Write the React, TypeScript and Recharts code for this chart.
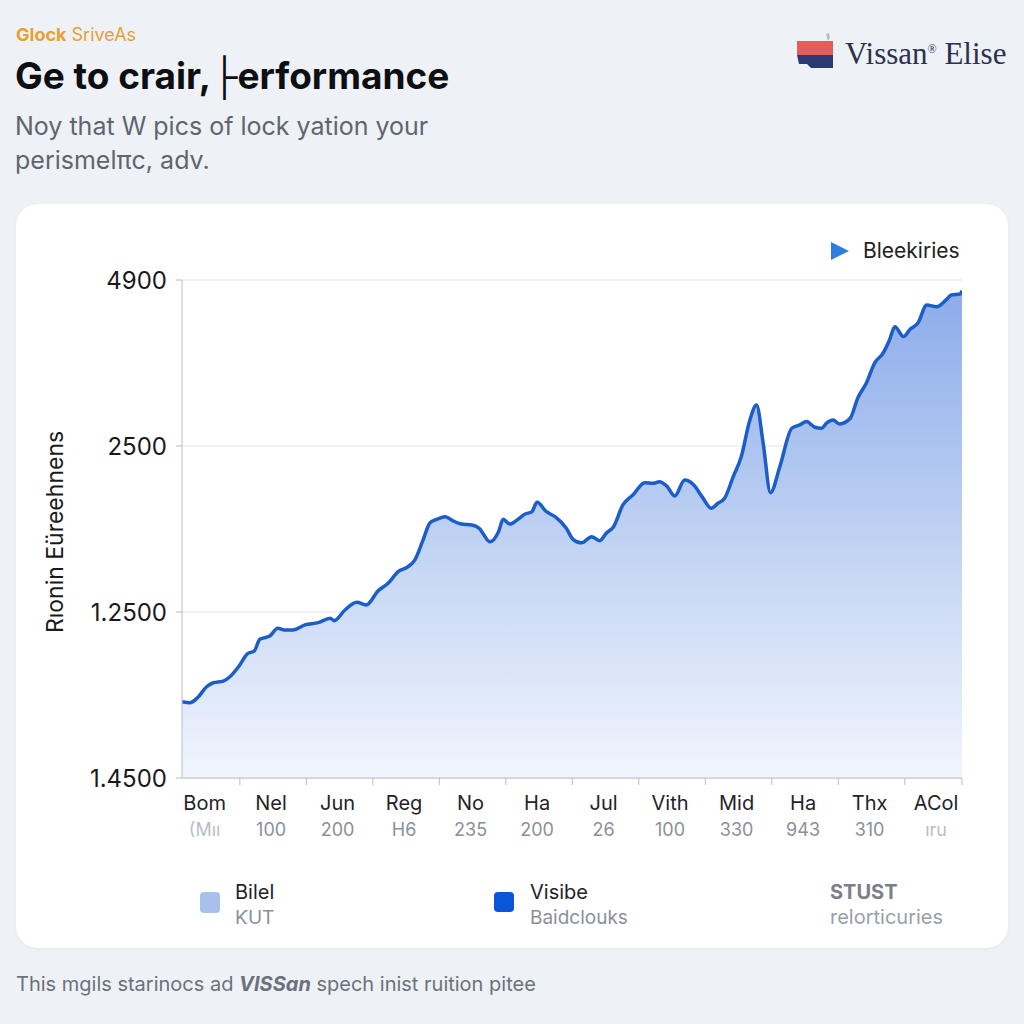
import { AreaChart, Area, XAxis, YAxis, CartesianGrid } from "recharts";

// x positions in months from the left edge, and values
const xPos = [
  0.13, 0.25, 0.37, 0.5, 0.6, 0.75, 0.85, 0.98, 1.11, 1.22, 1.3, 1.45, 1.57, 1.67, 1.8, 1.98, 2.18, 2.36, 2.42, 2.58,
  2.76, 2.9, 3.08, 3.23, 3.38, 3.53, 3.63, 3.75, 3.86, 3.96, 4.09, 4.2, 4.33, 4.49, 4.6, 4.76, 4.89, 4.96,
  5.06, 5.18, 5.29, 5.39, 5.47, 5.61, 5.74, 5.91, 6.01, 6.14, 6.29, 6.41, 6.51, 6.62, 6.76, 6.91, 7.09, 7.21,
  7.31, 7.42, 7.54, 7.69, 7.82, 7.95, 8.09, 8.19, 8.29, 8.42, 8.54, 8.67, 8.77, 8.87, 8.98, 9.12, 9.3, 9.42,
  9.52, 9.65, 9.75, 9.82, 9.92, 10.02, 10.18, 10.29, 10.42, 10.55, 10.67, 10.77, 10.85, 10.98, 11.08, 11.2,
  11.33, 11.48, 11.62, 11.7, 11.83, 11.86,
];
const values = [
  460, 454, 486, 550, 574, 584, 610, 670, 747, 767, 836, 855, 902, 892, 892, 922, 936, 962, 948, 1012,
  1058, 1042, 1128, 1173, 1243, 1273, 1313, 1428, 1538, 1558, 1574, 1550, 1530, 1524, 1504, 1423, 1484, 1558,
  1530, 1558, 1590, 1603, 1661, 1604, 1574, 1504, 1438, 1417, 1454, 1429, 1474, 1514, 1645, 1705, 1779, 1775,
  1785, 1759, 1699, 1795, 1768, 1695, 1625, 1655, 1685, 1815, 1935, 2157, 2247, 2016, 1719, 1875, 2107, 2127,
  2147, 2113, 2107, 2137, 2157, 2133, 2167, 2287, 2378, 2502, 2558, 2639, 2719, 2659, 2703, 2743,
  2849, 2839, 2880, 2910, 2916, 2935,
];

const categories = ["Bom", "Nel", "Jun", "Reg", "No", "Ha", "Jul", "Vith", "Mid", "Ha", "Thx", "ACol"];
const subLabels = ["(Mıı", "100", "200", "H6", "235", "200", "26", "100", "330", "943", "310", "ıru"];
const yTicks = [0, 1000, 2000, 3000];
const yTickLabels = ["1.4500", "1.2500", "2500", "4900"];
const X_MIN = 0.13;
const X_MAX = 11.86;

const data = xPos.map((x, i) => ({ x, value: values[i] }));

// month boundaries get a tick mark, month centres get the labels
const markTicks = [1, 2, 3, 4, 5, 6, 7, 8, 9, 10, 11, X_MAX];
const labelTicks = categories.map((_, i) => i + 0.5);
const allTicks = [...labelTicks, ...markTicks].sort((a, b) => a - b);

const SANS = "Inter, 'Noto Sans', sans-serif";

function XTick(props: any) {
  const { x, y, payload } = props;
  const v = payload.value;
  const i = labelTicks.indexOf(v);
  if (i < 0) {
    return <line x1={x} x2={x} y1={y - 8} y2={y - 1} stroke="#b9bdc4" />;
  }
  const faint = i === 0 || i === categories.length - 1;
  return (
    <g>
      <text x={x - 2} y={y + 24} textAnchor="middle" fontSize={20} fill="#1f2328" fontFamily={SANS}>
        {categories[i]}
      </text>
      <text x={x - 2} y={y + 50} textAnchor="middle" fontSize={18} fill={faint ? "#b9bec6" : "#8a9099"} fontFamily={SANS}>
        {subLabels[i]}
      </text>
    </g>
  );
}

function Logo() {
  return (
    <svg width={40} height={40} viewBox="0 0 40 40" style={{ position: "absolute", left: 795, top: 32 }}>
      <path d="M31 2 l3 -1 l1 5 l-2 3 z" fill="#b8bcc6" />
      <rect x={2} y={9} width={36} height={14} fill="#e35d5d" />
      <path d="M2 23 H38 V36 H16 L12 32 H4 Z" fill="#2b3a73" />
    </svg>
  );
}

export default function App() {
  return (
    <div
      style={{
        position: "absolute",
        left: 0,
        top: 0,
        width: 1024,
        height: 1024,
        background: "#eef2f7",
        fontFamily: SANS,
        overflow: "hidden",
      }}
    >
      <div style={{ position: "absolute", left: 16, top: 24, fontSize: 18, color: "#e8a030" }}>
        <b>Glock</b> SriveAs
      </div>
      <div style={{ position: "absolute", left: 15, top: 53, fontSize: 37, fontWeight: 700, color: "#0d0f12" }}>
        Ge to crair,├erformance
      </div>
      <div style={{ position: "absolute", left: 15, top: 109, fontSize: 25, lineHeight: "34px", color: "#5f6570" }}>
        Noy that W pics of lock yation your
        <br />
        perismelπc, adv.
      </div>

      <Logo />
      <div
        style={{
          position: "absolute",
          left: 845,
          top: 36,
          fontSize: 31,
          color: "#2b3150",
          fontFamily: "'Liberation Serif', 'DejaVu Serif', serif",
        }}
      >
        Vissan<sup style={{ fontSize: 12 }}>®</sup> Elise
      </div>

      <div
        style={{
          position: "absolute",
          left: 16,
          top: 204,
          width: 992,
          height: 744,
          background: "#ffffff",
          borderRadius: 22,
          boxShadow: "0 1px 4px rgba(0,0,0,0.04)",
        }}
      />

      <div style={{ position: "absolute", left: 830, top: 238, display: "flex", alignItems: "center" }}>
        <svg width={20} height={20}>
          <path d="M1 1 L19 10 L1 19 Z" fill="#2f7de0" />
        </svg>
        <span style={{ marginLeft: 13, fontSize: 21, color: "#222" }}>Bleekiries</span>
      </div>

      <div
        style={{
          position: "absolute",
          left: 55,
          top: 532,
          transform: "translate(-50%, -50%) rotate(-90deg)",
          fontSize: 23,
          color: "#1a1a1a",
          whiteSpace: "nowrap",
        }}
      >
        Rıonin Eüreehnens
      </div>

      <div style={{ position: "absolute", left: 0, top: 240 }}>
        <AreaChart width={1000} height={618} data={data} margin={{ top: 40, right: 38, left: 102, bottom: 0 }}>
          <defs>
            <linearGradient id="areaFill" x1="0" y1="0" x2="0" y2="1">
              <stop offset="0%" stopColor="#8cacea" stopOpacity={1} />
              <stop offset="55%" stopColor="#c4d5f4" stopOpacity={1} />
              <stop offset="100%" stopColor="#f1f5fd" stopOpacity={1} />
            </linearGradient>
          </defs>
          <CartesianGrid stroke="#dfe4ea" vertical={false} />
          <XAxis
            dataKey="x"
            type="number"
            domain={[X_MIN, X_MAX]}
            ticks={allTicks}
            axisLine={{ stroke: "#b9bdc4" }}
            tickLine={false}
            tickSize={6}
            tickMargin={2}
            height={80}
            tick={<XTick />}
            interval={0}
            allowDataOverflow
          />
          <YAxis
            type="number"
            domain={[0, 3000]}
            ticks={yTicks}
            width={80}
            axisLine={{ stroke: "#b9bdc4" }}
            tickLine={{ stroke: "#b9bdc4" }}
            tickSize={6}
            tickMargin={9}
            tick={{ fontSize: 24, fill: "#1a1a1a", fontFamily: SANS }}
            tickFormatter={(v: number) => yTickLabels[yTicks.indexOf(v)] ?? ""}
          />
          <Area
            type="monotone"
            dataKey="value"
            stroke="#1b5dc9"
            strokeWidth={3.5}
            fill="url(#areaFill)"
            fillOpacity={1}
            dot={false}
            activeDot={false}
            isAnimationActive={false}
          />
        </AreaChart>
      </div>

      <div style={{ position: "absolute", left: 200, top: 880, display: "flex" }}>
        <div style={{ width: 20, height: 21, borderRadius: 4, background: "#a9c1ea", marginTop: 12 }} />
        <div style={{ marginLeft: 15, lineHeight: "25px" }}>
          <div style={{ fontSize: 20, color: "#1f2328" }}>Bilel</div>
          <div style={{ fontSize: 19, color: "#8a9099" }}>ƘUT</div>
        </div>
      </div>
      <div style={{ position: "absolute", left: 494, top: 880, display: "flex" }}>
        <div style={{ width: 20, height: 20, borderRadius: 4, background: "#0a55d8", marginTop: 12 }} />
        <div style={{ marginLeft: 16, lineHeight: "25px" }}>
          <div style={{ fontSize: 20, color: "#1f2328" }}>Visibe</div>
          <div style={{ fontSize: 19, color: "#8a9099" }}>Baidclouks</div>
        </div>
      </div>
      <div style={{ position: "absolute", left: 830, top: 880, lineHeight: "25px" }}>
        <div style={{ fontSize: 20, color: "#7c8088", fontWeight: 700 }}>STUST</div>
        <div style={{ fontSize: 20, color: "#9aa0a8" }}>relorticuries</div>
      </div>

      <div style={{ position: "absolute", left: 16, top: 972, fontSize: 20, color: "#6b717c" }}>
        This mgils starinocs ad <b style={{ fontStyle: "italic" }}>VISSan</b> spech inist ruition pitee
      </div>
    </div>
  );
}
